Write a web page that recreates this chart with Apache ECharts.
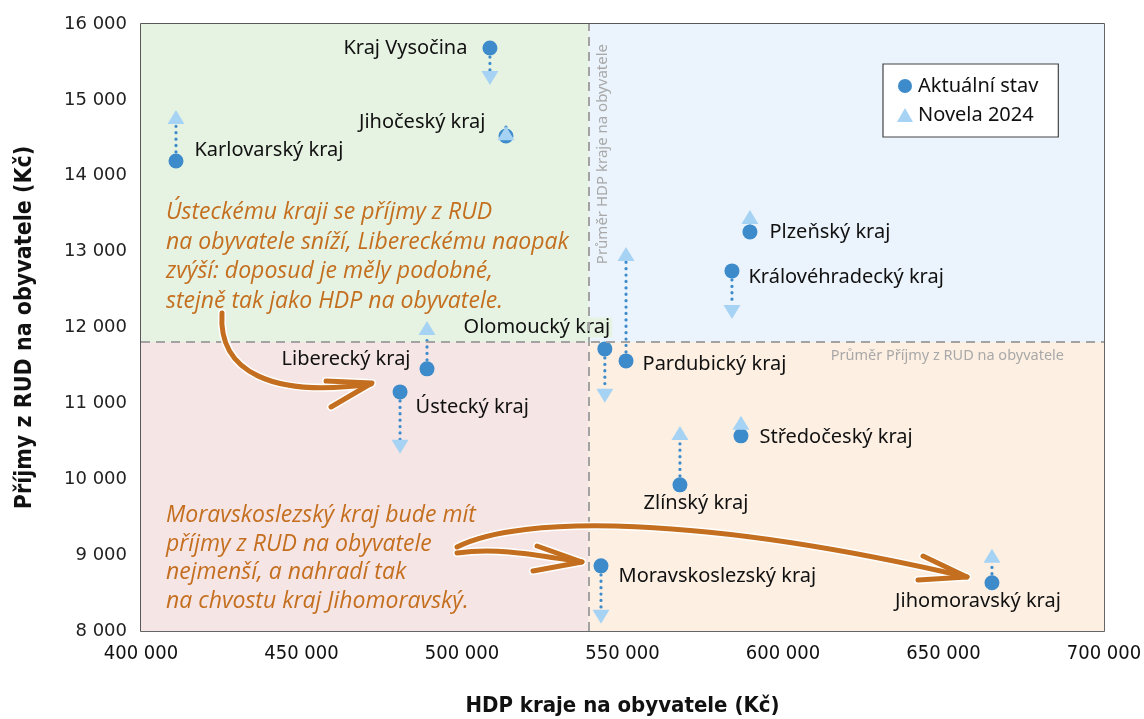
<!DOCTYPE html>
<html><head><meta charset="utf-8">
<script src="https://cdn.jsdelivr.net/npm/echarts@6/dist/echarts.min.js"></script>
<style>html,body{margin:0;padding:0;background:#fff}#c{width:1144px;height:719px}</style>
</head><body><div id="c"></div>
<script>
// ---- data ----
const regions = ['Kraj Vysočina','Jihočeský kraj','Karlovarský kraj','Plzeňský kraj','Královéhradecký kraj','Olomoucký kraj','Pardubický kraj','Liberecký kraj','Ústecký kraj','Středočeský kraj','Zlínský kraj','Moravskoslezský kraj','Jihomoravský kraj'];
const hdp     = [508700, 513700, 410900, 589700, 584100, 544500, 551100, 489100, 480700, 586900, 567900, 543300, 665100];
const rudNow  = [15684, 14524, 14195, 13260, 12746, 11718, 11560, 11455, 11151, 10572, 9926, 8859, 8635];
const rudNew  = [15289, 14560, 14775, 13457, 12205, 11099, 12970, 11995, 10427, 10743, 10611, 8187, 8991];
const avgHdp = 539500;
const avgRud = 11810;
const seriesNames = ['Aktuální stav', 'Novela 2024'];
const xName = 'HDP kraje na obyvatele (Kč)';
const yName = 'Příjmy z RUD na obyvatele (Kč)';
const avgHdpLabel = 'Průměr HDP kraje na obyvatele';
const avgRudLabel = 'Průměr Příjmy z RUD na obyvatele';
const note1 = ['Ústeckému kraji se příjmy z RUD', 'na obyvatele sníží, Libereckému naopak', 'zvýší: doposud je měly podobné,', 'stejně tak jako HDP na obyvatele.'];
const note2 = ['Moravskoslezský kraj bude mít', 'příjmy z RUD na obyvatele', 'nejmenší, a nahradí tak', 'na chvostu kraj Jihomoravský.'];

// ---- styles ----
const C_NOW = '#3d8bcb', C_NEW = '#a6d3f4', C_NOTE = '#c46f1f';
const Q = {tl:'#e6f3e2', tr:'#ebf4fc', bl:'#f6e5e5', br:'#fdf0e3'};
const labelPlace = {
 'Kraj Vysočina': {position:'left', offset:[-8,0]},
 'Jihočeský kraj': {position:'left', offset:[-6,-14]},
 'Karlovarský kraj': {position:'right', offset:[4,-11]},
 'Plzeňský kraj': {position:'right', offset:[5,0]},
 'Královéhradecký kraj': {position:'right', offset:[2,6]},
 'Olomoucký kraj': {position:'top', offset:[-68,1]},
 'Pardubický kraj': {position:'right', offset:[2,3]},
 'Liberecký kraj': {position:'left', offset:[-2,-10]},
 'Ústecký kraj': {position:'right', offset:[1,15]},
 'Středočeský kraj': {position:'right', offset:[4,1]},
 'Zlínský kraj': {position:'bottom', offset:[16,-4]},
 'Moravskoslezský kraj': {position:'right', offset:[3,10]},
 'Jihomoravský kraj': {position:'bottom', offset:[-14,-4]}
};
function quadColor(x, y){ return y >= avgRud ? (x < avgHdp ? Q.tl : Q.tr) : (x < avgHdp ? Q.bl : Q.br); }
const fmt = v => String(v).replace(/\B(?=(\d{3})+(?!\d))/g, ' ');
const FONT = '"Noto Sans", "Open Sans", sans-serif';
const NARROW = '"Liberation Sans Narrow", "DejaVu Sans Condensed", "Noto Sans", sans-serif';

const nowData = regions.map((n, i) => {
  const p = labelPlace[n];
  return {
    name: n, value: [hdp[i], rudNow[i]],
    label: {show:true, formatter:n, position:p.position, offset:p.offset, distance:5,
      backgroundColor: quadColor(hdp[i] + (p.offset[0]*311), rudNow[i] + (p.position==='top' ? 300 : 0)),
      padding:[0,2], color:'#111', fontSize:20, fontFamily:FONT}
  };
});
const newData = regions.map((n, i) => ({
  name: n, value: [hdp[i], rudNew[i]], symbolRotate: rudNew[i] < rudNow[i] ? 180 : 0
}));
const linkData = regions.map((n, i) => [hdp[i], rudNow[i], rudNew[i]]);

const chart = echarts.init(document.getElementById('c'), null, {renderer:'canvas'});
const option = {
  animation: false,
  grid: {left:141, top:24, right:40, bottom:88, outerBoundsMode:'none', containLabel:false, show:true, borderColor:'#222', borderWidth:1.5, backgroundColor:'transparent'},
  xAxis: {
    type:'value', min:400000, max:700000, interval:50000,
    name: xName, nameLocation:'middle', nameGap:64,
    nameTextStyle:{fontFamily:NARROW, fontWeight:'bold', fontSize:22, color:'#111'},
    axisLine:{show:false}, axisTick:{show:false},
    axisLabel:{formatter:fmt, fontFamily:NARROW, fontSize:20, color:'#111', margin:13},
    splitLine:{lineStyle:{color:'#666', width:1}}
  },
  yAxis: {
    type:'value', min:8000, max:16000, interval:1000,
    name: yName, nameLocation:'middle', nameGap:104,
    nameTextStyle:{fontFamily:NARROW, fontWeight:'bold', fontSize:23, color:'#111'},
    axisLine:{show:false}, axisTick:{show:false},
    axisLabel:{formatter:fmt, fontFamily:'"DejaVu Sans", sans-serif', fontSize:18, color:'#222', margin:14},
    splitLine:{lineStyle:{color:'#666', width:1}}
  },
  legend: {
    left:883, top:64, orient:'vertical', backgroundColor:'#fff', borderColor:'#444', borderWidth:1.2,
    padding:[12,20,12,14], itemGap:9, itemWidth:16, itemHeight:14,
    textStyle:{fontFamily:FONT, fontSize:20, color:'#111'},
    data:[{name:seriesNames[0], icon:'circle'}, {name:seriesNames[1], icon:'triangle', itemStyle:{color:C_NEW}}]
  },
  series: [
    { // quadrant backgrounds
      type:'scatter', data:[], z:-1, silent:true,
      markArea:{silent:true, data:[
        [{coord:[400000, avgRud], itemStyle:{color:Q.tl}}, {coord:[avgHdp, 16000]}],
        [{coord:[avgHdp, avgRud], itemStyle:{color:Q.tr}}, {coord:[700000, 16000]}],
        [{coord:[400000, 8000], itemStyle:{color:Q.bl}}, {coord:[avgHdp, avgRud]}],
        [{coord:[avgHdp, 8000], itemStyle:{color:Q.br}}, {coord:[700000, avgRud]}]
      ]}
    },
    { // average lines
      type:'scatter', data:[], z:1, silent:true,
      markLine:{silent:true, symbol:'none',
        lineStyle:{color:'#a3a3a3', width:2, type:[9,6]},
        data:[
          {xAxis: avgHdp, label:{show:true, formatter:avgHdpLabel, position:'insideEndBottom', distance:[20,6], color:'#a8a8a8', fontSize:15, fontFamily:FONT}},
          {yAxis: avgRud, label:{show:true, formatter:avgRudLabel, position:'insideEndBottom', distance:[40,6], color:'#a8a8a8', fontSize:14.5, fontFamily:FONT}}
        ]}
    },
    { // dotted connectors
      type:'custom', data:linkData, z:3, silent:true,
      renderItem: (params, api) => {
        const a = api.coord([api.value(0), api.value(1)]);
        const b = api.coord([api.value(0), api.value(2)]);
        const dir = b[1] > a[1] ? 1 : -1;
        return {type:'line', shape:{x1:a[0], y1:a[1] + dir*9, x2:b[0], y2:b[1] - dir*7},
          style:{stroke:C_NOW, lineWidth:3.2, lineDash:[0.1,6.3], lineCap:'round'}};
      },
      encode:{x:0, y:[1,2]}
    },
    {
      name: seriesNames[0], type:'scatter', z:4, symbol:'circle', symbolSize:15,
      itemStyle:{color:C_NOW, opacity:1}, data: nowData
    },
    {
      name: seriesNames[1], type:'scatter', z:5, symbol:'triangle', symbolSize:[17,14],
      itemStyle:{color:C_NEW, opacity:1}, data: newData
    }
  ],
  graphic: []
};
chart.setOption(option);

// ---- hand-drawn style annotation arrows and texts ----
function curve(x1,y1,c1x,c1y,c2x,c2y,x2,y2){
  const shape = {x1:x1,y1:y1,cpx1:c1x,cpy1:c1y,cpx2:c2x,cpy2:c2y,x2:x2,y2:y2};
  return [
    {type:'bezierCurve', shape:shape, style:{stroke:'#fff', lineWidth:8, fill:null, lineCap:'round'}, z:50},
    {type:'bezierCurve', shape:shape, style:{stroke:C_NOTE, lineWidth:5, fill:null, lineCap:'round'}, z:51}
  ];
}
function head(pts){
  return [
    {type:'polyline', shape:{points:pts}, style:{stroke:'#fff', lineWidth:8, fill:null, lineCap:'round', lineJoin:'round'}, z:50},
    {type:'polyline', shape:{points:pts}, style:{stroke:C_NOTE, lineWidth:5, fill:null, lineCap:'round', lineJoin:'round'}, z:52}
  ];
}
function note(lines, left, top, lh){
  return lines.map((t, i) => ({type:'text', left:left, top:top + i*lh, z:60,
    style:{text:t, fill:C_NOTE, font:'italic 23px "Open Sans", "Noto Sans", sans-serif'}}));
}
const g = [].concat(
  curve(222,313, 218,372, 272,398, 371,384), head([[326,381],[372,383],[331,407]]),
  curve(457,553, 500,547, 540,556, 582,562), head([[537,546],[582,562],[533,571]]),
  curve(457,547, 520,515, 700,515, 967,577), head([[923,556],[967,577],[918,580]]),
  note(note1, 166, 201, 29.7), note(note2, 166, 504, 28.7)
);
chart.setOption({graphic: g});
</script></body></html>
